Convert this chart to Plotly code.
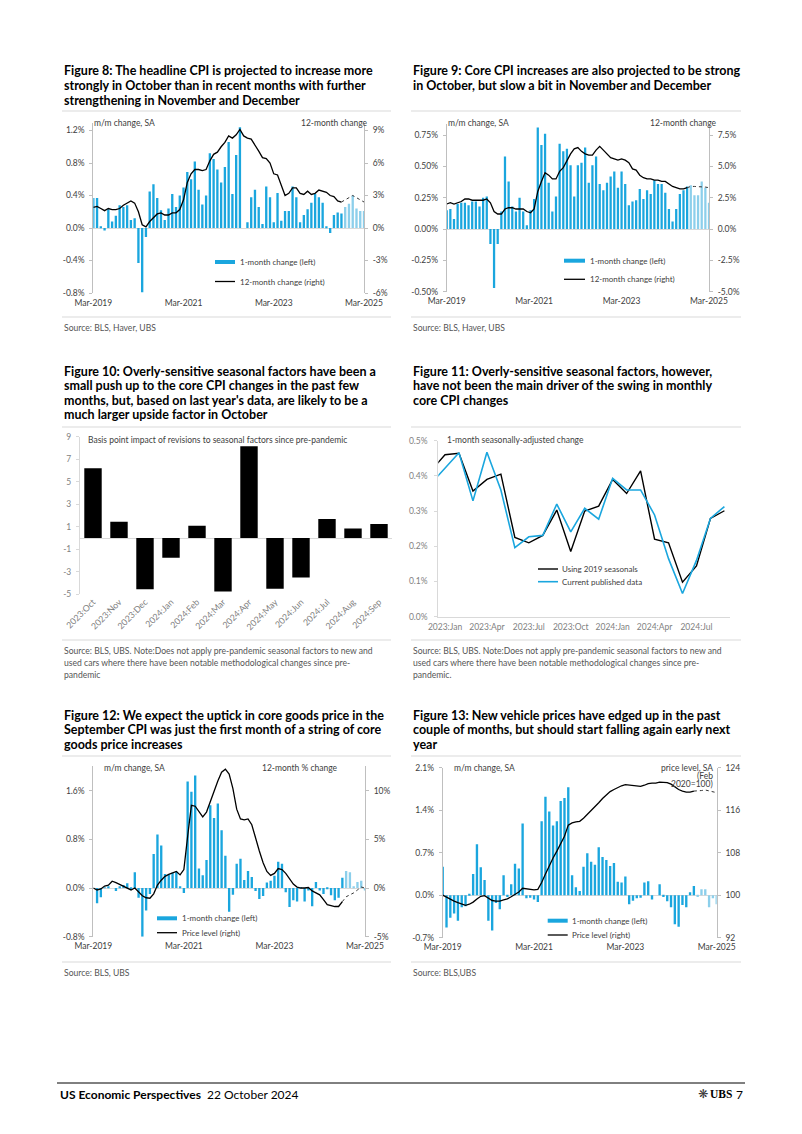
import plotly.graph_objects as go
import pandas as pd

W, H = 802, 1134
OFF = 8                      # default page margin of the html body
FW, FH = W - OFF, H - OFF    # figure size so that the page fits the window
FONT = "Lato"
CYAN = "#1AA6DE"
CYAN_LIGHT = "#8CCFEB"
AXIS = "#BFBFBF"
ZERO = "#D9D9D9"
DARK = "#404040"
GREY = "#7F7F7F"

# ---------------- data ----------------
months = pd.date_range("2019-03-01", "2025-03-01", freq="MS")
month_labels = [d.strftime("%b-%Y") for d in months]
month_ticks = ["Mar-2019", "Mar-2021", "Mar-2023", "Mar-2025"]
n_actual = 67  # Mar-2019 .. Sep-2024 published, rest projected

# Figure 8: headline CPI
headline_mm = [0.37, 0.37, 0.02, -0.03, 0.23, 0.08, 0.15, 0.28, 0.26, 0.28,
               0.10, 0.12, -0.43, -0.79, -0.11, 0.45, 0.54, 0.37, 0.22, 0.10, 0.24, 0.42,
               0.26, 0.40, 0.50, 0.69, 0.60, 0.82, 0.47, 0.29, 0.40, 0.92, 0.85, 0.72,
               0.56, 0.75, 1.06, 0.42, 0.90, 1.24, 0.00, 0.07, 0.38, 0.47, 0.26, 0.05,
               0.51, 0.38, 0.07, 0.43, 0.09, 0.21, 0.21, 0.51, 0.38, 0.07, 0.16, 0.23,
               0.31, 0.42, 0.38, 0.31, 0.01, -0.06, 0.16, 0.19, 0.18,
               0.26, 0.30, 0.40, 0.24, 0.21, 0.21]
headline_yoy = [1.9, 2.0, 1.8, 1.6, 1.8, 1.7, 1.7, 1.8, 2.1, 2.3,
                2.5, 2.3, 1.5, 0.3, 0.1, 0.6, 1.0, 1.3, 1.4, 1.2, 1.2, 1.4,
                1.4, 1.7, 2.6, 4.2, 5.0, 5.4, 5.4, 5.3, 5.4, 6.2, 6.8, 7.0,
                7.5, 7.9, 8.5, 8.3, 8.6, 9.1, 8.5, 8.3, 8.2, 7.7, 7.1, 6.5,
                6.4, 6.0, 5.0, 4.9, 4.0, 3.0, 3.2, 3.7, 3.7, 3.2, 3.1, 3.4,
                3.1, 3.2, 3.5, 3.4, 3.3, 3.0, 2.9, 2.5, 2.4,
                2.6, 2.8, 3.0, 2.8, 2.6, 2.4]
headline_left_ticks = [-0.8, -0.4, 0.0, 0.4, 0.8, 1.2]
headline_right_ticks = [-6, -3, 0, 3, 6, 9]

# Figure 9: core CPI
core_mm = [0.15, 0.16, 0.08, 0.20, 0.21, 0.21, 0.19, 0.22, 0.22, 0.18,
           0.25, 0.26, -0.12, -0.47, -0.12, 0.14, 0.58, 0.38, 0.18, 0.14, 0.25, 0.14,
           0.03, 0.15, 0.24, 0.81, 0.67, 0.76, 0.37, 0.14, 0.26, 0.68, 0.62, 0.64,
           0.51, 0.26, 0.51, 0.53, 0.65, 0.37, 0.51, 0.58, 0.36, 0.31, 0.37, 0.42,
           0.46, 0.33, 0.46, 0.36, 0.19, 0.22, 0.23, 0.32, 0.24, 0.31, 0.28, 0.39,
           0.36, 0.36, 0.29, 0.16, 0.06, 0.16, 0.28, 0.31, 0.34,
           0.35, 0.27, 0.27, 0.38, 0.33, 0.21]
core_yoy = [2.0, 2.1, 2.0, 2.1, 2.2, 2.4, 2.4, 2.3, 2.3, 2.3,
            2.3, 2.4, 2.1, 1.4, 1.2, 1.2, 1.6, 1.7, 1.7, 1.6, 1.6, 1.6,
            1.4, 1.3, 1.6, 3.0, 3.8, 4.5, 4.3, 4.0, 4.0, 4.6, 4.9, 5.5,
            6.0, 6.4, 6.5, 6.2, 6.0, 5.9, 5.9, 6.3, 6.6, 6.3, 6.0, 5.7,
            5.6, 5.5, 5.6, 5.5, 5.3, 4.8, 4.7, 4.3, 4.1, 4.0, 4.0, 3.9,
            3.9, 3.8, 3.8, 3.6, 3.4, 3.3, 3.2, 3.2, 3.3,
            3.4, 3.4, 3.4, 3.35, 3.35, 3.3]
core_left_ticks = [-0.5, -0.25, 0.0, 0.25, 0.5, 0.75]
core_right_ticks = [-5.0, -2.5, 0.0, 2.5, 5.0, 7.5]

# Figure 10: seasonal factor revisions (bp)
seasonal_months = ["2023:Oct", "2023:Nov", "2023:Dec", "2024:Jan", "2024:Feb", "2024:Mar",
                   "2024:Apr", "2024:May", "2024:Jun", "2024:Jul", "2024:Aug", "2024:Sep"]
seasonal_bp = [6.2, 1.45, -4.55, -1.75, 1.1, -4.75, 8.15, -4.5, -3.5, 1.7, 0.85, 1.25]
seasonal_ticks = [-5, -3, -1, 1, 3, 5, 7, 9]

# Figure 11: core CPI 1-month change, two seasonal-adjustment vintages
sa_months = ["2022:Dec", "2023:Jan", "2023:Feb", "2023:Mar", "2023:Apr", "2023:May", "2023:Jun",
             "2023:Jul", "2023:Aug", "2023:Sep", "2023:Oct", "2023:Nov", "2023:Dec", "2024:Jan",
             "2024:Feb", "2024:Mar", "2024:Apr", "2024:May", "2024:Jun", "2024:Jul", "2024:Aug",
             "2024:Sep"]
sa_ticks = ["2023:Jan", "2023:Apr", "2023:Jul", "2023:Oct", "2024:Jan", "2024:Apr", "2024:Jul"]
using_2019 = [0.415, 0.460, 0.464, 0.357, 0.390, 0.405, 0.225, 0.210, 0.231, 0.303, 0.185,
              0.300, 0.314, 0.390, 0.350, 0.414, 0.220, 0.210, 0.098, 0.144, 0.279, 0.301]
published = [0.378, 0.422, 0.466, 0.329, 0.467, 0.360, 0.196, 0.227, 0.231, 0.320, 0.241,
             0.308, 0.277, 0.393, 0.360, 0.360, 0.289, 0.165, 0.066, 0.160, 0.279, 0.313]
sa_y_ticks = [0.0, 0.1, 0.2, 0.3, 0.4, 0.5]

# Figure 12: core goods
goods_mm = [0.00, -0.25, -0.15, 0.01, 0.02, 0.00, -0.05, 0.03, 0.05, 0.08,
            -0.03, 0.26, -0.16, -0.80, -0.37, -0.10, 0.56, 0.88, 0.70, 0.23, 0.22, 0.25,
            0.27, 0.03, -0.08, 1.75, 1.58, 1.85, 0.32, 0.21, 0.46, 1.36, 1.15, 1.39,
            0.95, 0.53, -0.39, -0.11, 0.40, 0.48, 0.13, 0.28, 0.18, -0.05, -0.18, -0.13,
            0.09, 0.12, 0.20, 0.43, 0.40, -0.07, -0.31, -0.20, -0.22, 0.01, -0.22, -0.04,
            -0.30, 0.10, -0.04, -0.10, -0.02, -0.12, -0.20, -0.16, 0.17,
            0.28, 0.26, 0.03, 0.10, 0.12, -0.04]
goods_yoy = [0.0, -0.2, -0.1, 0.2, 0.3, 0.7, 0.55, 0.35, 0.15, 0.0,
             -0.2, 0.0, -0.4, -0.8, -1.0, -1.05, -0.6, 0.3, 0.8, 1.2, 1.4, 1.55,
             1.7, 1.35, 1.9, 5.3, 8.5, 8.4, 7.8, 7.3, 7.8, 8.9, 10.0, 11.0,
             11.9, 12.2, 11.7, 10.2, 8.1, 7.1, 7.0, 7.1, 6.5, 5.1, 3.8, 2.6,
             1.7, 1.3, 1.5, 2.0, 1.9, 1.5, 0.9, 0.4, 0.1, 0.0, 0.0, 0.05,
             -0.3, -0.5, -0.7, -1.2, -1.7, -1.8, -1.9, -1.9, -1.4,
             -0.9, -0.7, -0.5, -0.2, 0.1, 0.0]
goods_left_ticks = [-0.8, 0.0, 0.8, 1.6]
goods_right_ticks = [-5, 0, 5, 10]

# Figure 13: new vehicles
newveh_mm = [0.47, -0.53, -0.37, -0.30, -0.42, -0.20, -0.18, 0.02, 0.35, 0.84,
             0.46, 0.25, -0.42, -0.58, -0.13, -0.23, 0.33, -0.03, 0.18, 0.52, 0.44, 1.18,
             -0.05, -0.04, -0.07, -0.11, 1.22, 1.62, 1.38, 1.15, 1.22, 1.55, 1.60, 1.78,
             0.33, 0.13, 0.07, 0.47, 0.69, 0.55, 0.50, 0.79, 0.63, 0.58, 0.48, 0.53,
             0.22, 0.21, 0.31, -0.15, -0.09, -0.05, -0.04, 0.21, 0.23, -0.07, 0.00, 0.18,
             -0.03, -0.10, -0.20, -0.48, -0.52, -0.16, -0.20, 0.05, 0.15,
             -0.03, 0.10, 0.10, -0.20, -0.05, -0.15]
newveh_level = [100.0, 99.6, 99.2, 98.9, 98.6, 98.3, 98.1, 98.3, 98.7, 99.3,
                99.8, 99.9, 99.5, 99.0, 98.9, 98.9, 99.1, 99.3, 99.7, 100.1, 100.6, 101.3,
                101.2, 101.1, 101.0, 101.1, 102.4, 104.0, 105.6, 107.0, 108.3, 109.6, 111.1, 113.2,
                113.6, 113.8, 113.9, 114.5, 115.2, 115.9, 116.6, 117.4, 118.2, 118.9, 119.5, 119.9,
                120.3, 120.6, 120.8, 120.7, 120.6, 120.5, 120.5, 120.7, 121.0, 121.1, 121.1, 121.3,
                121.3, 121.2, 120.9, 120.4, 119.9, 119.6, 119.4, 119.4, 119.6,
                119.6, 119.7, 119.8, 119.6, 119.5, 119.3]
newveh_left_ticks = [-0.7, 0.0, 0.7, 1.4, 2.1]
newveh_right_ticks = [92, 100, 108, 116, 124]


# ---------------- helpers ----------------
def X(px):
    return (px - OFF) / FW


def Y(py):
    return 1 - (py - OFF) / FH


def pct(dec):
    return lambda v: f"{v:.{dec}f}%"


def tickfont(color=DARK, size=8.5):
    return dict(family=FONT, size=size, color=color)


fig = go.Figure()
idx = list(range(len(month_labels)))
tick_pos = [month_labels.index(t) for t in month_ticks]
bar_colors = [CYAN] * n_actual + [CYAN_LIGHT] * (len(idx) - n_actual)


def add_bar_line(xa, ya, ya2, mm, lvl):
    fig.add_trace(go.Bar(x=idx, y=mm, marker=dict(color=bar_colors, line=dict(width=0)),
                         width=0.62, xaxis=xa, yaxis=ya, showlegend=False))
    fig.add_trace(go.Scatter(x=idx[:n_actual], y=lvl[:n_actual], mode="lines",
                             line=dict(color="black", width=1.3), xaxis=xa, yaxis=ya2,
                             showlegend=False))
    fig.add_trace(go.Scatter(x=idx[n_actual - 1:], y=lvl[n_actual - 1:], mode="lines",
                             line=dict(color="#333333", width=1, dash="dot"), xaxis=xa,
                             yaxis=ya2, showlegend=False))


def x_time(x0, x1, anchor):
    return dict(domain=[X(x0), X(x1)], anchor=anchor, range=[0, len(idx) - 1],
                tickvals=tick_pos, ticktext=month_ticks, ticks="", showline=False,
                showgrid=False, zeroline=False, tickfont=tickfont(), ticklabelstandoff=3)


def y_left(top, bottom, anchor, rng, vals, fmt, color=DARK, linecolor=AXIS, standoff=3):
    return dict(domain=[Y(bottom), Y(top)], anchor=anchor, range=rng, tickvals=vals,
                ticktext=[fmt(v) for v in vals], showline=True, linecolor=linecolor,
                linewidth=1, ticks="outside", ticklen=3, tickcolor=linecolor,
                showgrid=False, zeroline=True, zerolinecolor=ZERO, zerolinewidth=1,
                tickfont=tickfont(color), ticklabelstandoff=standoff)


def y_right(overlay, anchor, rng, vals, fmt):
    return dict(overlaying=overlay, side="right", anchor=anchor, range=rng, tickvals=vals,
                ticktext=[fmt(v) for v in vals], showline=True, linecolor=AXIS,
                linewidth=1, ticks="outside", ticklen=3, tickcolor=AXIS,
                showgrid=False, zeroline=False, tickfont=tickfont(), ticklabelstandoff=3)


# ---------------- traces ----------------
add_bar_line("x", "y", "y2", headline_mm, headline_yoy)
add_bar_line("x2", "y3", "y4", core_mm, core_yoy)

fig.add_trace(go.Bar(x=seasonal_months, y=seasonal_bp, marker=dict(color="black", line=dict(width=0)),
                     width=0.67, xaxis="x3", yaxis="y5", showlegend=False))

sa_x = list(range(-1, len(sa_months) - 1))
fig.add_trace(go.Scatter(x=sa_x, y=using_2019, mode="lines", line=dict(color="black", width=1.4),
                         xaxis="x4", yaxis="y6", showlegend=False))
fig.add_trace(go.Scatter(x=sa_x, y=published, mode="lines", line=dict(color=CYAN, width=1.6),
                         xaxis="x4", yaxis="y6", showlegend=False))

add_bar_line("x5", "y7", "y8", goods_mm, goods_yoy)
add_bar_line("x6", "y9", "y10", newveh_mm, newveh_level)

# ---------------- axes ----------------
layout_axes = dict(
    xaxis=x_time(93.3, 364, "y"),
    yaxis=y_left(123.2, 293, "x", [-0.8, 1.29], headline_left_ticks, pct(1)),
    yaxis2=y_right("y", "x", [-6, 9.675], headline_right_ticks, pct(0)),

    xaxis2=x_time(446.7, 709, "y3"),
    yaxis3=y_left(123.8, 291.7, "x2", [-0.5, 0.84], core_left_ticks, pct(2)),
    yaxis4=y_right("y3", "x2", [-5, 8.4], core_right_ticks, pct(1)),

    xaxis3=dict(domain=[X(80), X(392)], anchor="y5", type="category", tickangle=-45,
                ticks="", showline=False, showgrid=False, zeroline=False,
                tickfont=tickfont(GREY, 8.8)),
    yaxis5=y_left(436.7, 594.3, "x3", [-5, 9], seasonal_ticks, lambda v: f"{v:d}",
                  color=GREY, linecolor=ZERO, standoff=3),

    xaxis4=dict(domain=[X(438.3), X(730)], anchor="y6", range=[-0.48, 20.4],
                tickvals=[sa_months.index(t) - 1 for t in sa_ticks], ticktext=sa_ticks,
                ticks="", showline=True, linecolor=ZERO, showgrid=False, zeroline=False,
                tickfont=tickfont(GREY, 8.5), ticklabelstandoff=2),
    yaxis6=y_left(440.7, 616.7, "x4", [0, 0.5], sa_y_ticks, pct(1), color=GREY,
                  linecolor=ZERO, standoff=5),

    xaxis5=x_time(93.3, 365, "y7"),
    yaxis7=y_left(766.3, 936.7, "x5", [-0.8, 2.0], goods_left_ticks, pct(1)),
    yaxis8=y_right("y7", "x5", [-5, 12.5], goods_right_ticks, pct(0)),

    xaxis6=x_time(442.7, 716.7, "y9"),
    yaxis9=y_left(767.7, 937.7, "x6", [-0.7, 2.1], newveh_left_ticks, pct(1)),
    yaxis10=y_right("y9", "x6", [92, 124], newveh_right_ticks, lambda v: f"{v:d}"),
)

# ---------------- text & decorations ----------------
annotations = []
shapes = []


def text(x, y, s, size=8.5, color=DARK, anchor="left", family=FONT):
    annotations.append(dict(xref="paper", yref="paper", x=X(x), y=Y(y), text=s,
                            showarrow=False, xanchor=anchor, yanchor="middle",
                            font=dict(family=family, size=size, color=color)))


def hline(x0, x1, y, color=ZERO, width=1):
    shapes.append(dict(type="line", xref="paper", yref="paper", x0=X(x0), x1=X(x1),
                       y0=Y(y), y1=Y(y), line=dict(color=color, width=width)))


def title(x, y0, lines):
    for i, ln in enumerate(lines):
        text(x, y0 + i * 14.6, f"<b>{ln}</b>", size=12.5, color="black")


def source(x, y0, lines):
    for i, ln in enumerate(lines):
        text(x, y0 + i * 12, ln, size=8.6, color="#555555")


def legend_pair(x0, x1, y1, y2, xt, t1, t2, c1=CYAN, w1=4, c2="black", w2=1.3):
    hline(x0, x1, y1, c1, w1)
    hline(x0, x1, y2, c2, w2)
    text(xt, y1, t1, size=8, color=DARK)
    text(xt, y2, t2, size=8, color=DARK)


L0, L1, R0, R1 = 62, 391, 411, 741

# Figure 8
title(L0, 71, ["Figure 8: The headline CPI is projected to increase more",
               "strongly in October than in recent months with further",
               "strengthening in November and December"])
hline(L0, L1, 111)
text(91.5, 123.3, "m/m change, SA")
text(370, 123.3, "12-month change", anchor="right")
legend_pair(215, 235, 262, 281.5, 238, "1-month change (left)", "12-month change (right)")
hline(L0, L1, 317)
source(L0, 328, ["Source: BLS, Haver, UBS"])

# Figure 9
title(R0, 71, ["Figure 9: Core CPI increases are also projected to be strong",
               "in October, but slow a bit in November and December"])
hline(R0, R1, 111)
text(446, 123.3, "m/m change, SA")
text(719, 123.3, "12-month change", anchor="right")
legend_pair(564, 585, 260.7, 279.3, 588, "1-month change (left)", "12-month change (right)")
hline(R0, R1, 317)
source(R0, 328, ["Source: BLS, Haver, UBS"])

# Figure 10
title(L0, 371, ["Figure 10: Overly-sensitive seasonal factors have been a",
                "small push up to the core CPI changes in the past few",
                "months, but, based on last year's data, are likely to be a",
                "much larger upside factor in October"])
hline(L0, L1, 427)
text(85.5, 440, "Basis point impact of revisions to seasonal factors since pre-pandemic")
hline(L0, L1, 640)
source(L0, 651, ["Source: BLS, UBS. Note:Does not apply pre-pandemic seasonal factors to new and",
                 "used cars where there have been notable methodological changes since pre-",
                 "pandemic"])

# Figure 11
title(R0, 371, ["Figure 11: Overly-sensitive seasonal factors, however,",
                "have not been the main driver of the swing in monthly",
                "core CPI changes"])
hline(R0, R1, 427)
text(445, 440, "1-month seasonally-adjusted change")
legend_pair(538, 558, 569, 581.7, 560, "Using 2019 seasonals", "Current published data",
            c1="black", w1=1.4, c2=CYAN, w2=1.6)
hline(R0, R1, 640)
source(R0, 651, ["Source: BLS, UBS. Note:Does not apply pre-pandemic seasonal factors to new and",
                 "used cars where there have been notable methodological changes since pre-",
                 "pandemic."])

# Figure 12
title(L0, 715, ["Figure 12: We expect the uptick in core goods price in the",
                "September CPI was just the first month of a string of core",
                "goods price increases"])
hline(L0, L1, 756)
text(101.5, 767.5, "m/m change, SA")
text(340, 767.5, "12-month % change", anchor="right")
legend_pair(157, 177, 918.3, 932.7, 179.5, "1-month change (left)", "Price level (right)")
hline(L0, L1, 962)
source(L0, 973, ["Source: BLS, UBS"])

# Figure 13
title(R0, 715, ["Figure 13: New vehicle prices have edged up in the past",
                "couple of months, but should start falling again early next",
                "year"])
hline(R0, R1, 756)
text(451.5, 767.7, "m/m change, SA")
text(715, 767.7, "price level, SA", anchor="right")
text(715, 776, "(Feb", anchor="right")
text(715, 784.3, "2020=100)", anchor="right")
legend_pair(547.7, 567.7, 920.7, 935, 569.5, "1-month change (left)", "Price level (right)")
hline(R0, R1, 962)
source(R0, 973, ["Source: BLS,UBS"])

# Footer
hline(57, 745, 1083, color="black", width=1)
text(58, 1094, "<b>US Economic Perspectives</b>  22 October 2024", size=12, color="black")
text(745, 1094, "7", size=12, color="black", anchor="right")
text(734, 1094, "<b>UBS</b>", size=11.5, color="black", anchor="right",
     family="Liberation Serif")
text(710, 1094, "\u274B", size=12, color="#333333", anchor="right", family="DejaVu Sans")

fig.update_layout(
    width=FW, height=FH, margin=dict(l=0, r=0, t=0, b=0),
    paper_bgcolor="white", plot_bgcolor="white", template="none",
    showlegend=False, font=dict(family=FONT, size=9, color=DARK),
    annotations=annotations, shapes=shapes, **layout_axes,
)

fig.write_html("out.html")
